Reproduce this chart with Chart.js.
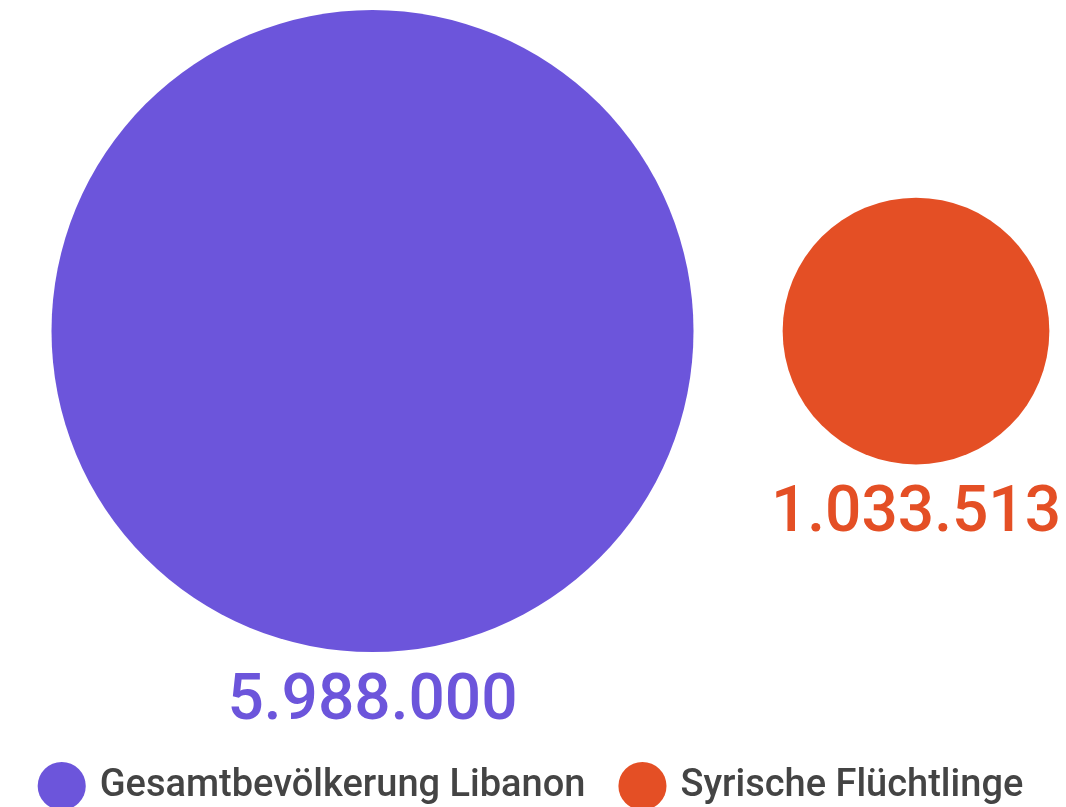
<!DOCTYPE html>
<html>
<head>
<meta charset="utf-8">
<script src="https://cdn.jsdelivr.net/npm/chart.js@4"></script>
<style>
  html, body { margin: 0; padding: 0; background: #fff; }
  #wrap { width: 1066px; height: 807px; }
</style>
</head>
<body>
<div id="wrap"><canvas id="bubbleChart"></canvas></div>
<script>
const labels = ['Gesamtbevölkerung Libanon', 'Syrische Flüchtlinge'];
const values = [5988000, 1033513];
const valueLabels = ['5.988.000', '1.033.513'];
const colors = ['#6C55DB', '#E44F25'];

// circle area proportional to the value
const maxRadius = 321;
const maxValue = Math.max(...values);

const valueLabelPlugin = {
  id: 'valueLabels',
  afterDatasetsDraw(chart) {
    const ctx = chart.ctx;
    chart.data.datasets.forEach((ds, i) => {
      const el = chart.getDatasetMeta(i).data[0];
      if (!el) return;
      ctx.save();
      ctx.font = '500 64px Roboto';
      ctx.fillStyle = colors[i];
      ctx.textAlign = 'center';
      ctx.textBaseline = 'middle';
      ctx.fillText(valueLabels[i], el.x, el.y + el.options.radius + 51);
      ctx.restore();
    });
  }
};

const ctx = document.getElementById('bubbleChart').getContext('2d');
new Chart(ctx, {
  type: 'bubble',
  data: {
    datasets: labels.map((name, i) => ({
      label: name,
      data: [{ x: i, y: 0, r: maxRadius * Math.sqrt(values[i] / maxValue) }],
      backgroundColor: colors[i],
      borderColor: colors[i],
      borderWidth: 0,
      hoverRadius: 0,
      clip: false
    }))
  },
  options: {
    responsive: true,
    maintainAspectRatio: false,
    animation: false,
    layout: { padding: { top: 0, left: 0, right: 0, bottom: -8 }, autoPadding: false },
    scales: {
      x: { display: false, min: -0.6854, max: 1.276 },
      y: { display: false, min: -1, max: 0.832 }
    },
    plugins: {
      legend: {
        position: 'bottom',
        labels: {
          usePointStyle: true,
          pointStyle: 'circle',
          boxWidth: 38,
          boxHeight: 34,
          color: '#444',
          padding: 38,
          font: { family: 'Roboto', size: 38, weight: '500' }
        }
      },
      tooltip: { enabled: false }
    }
  },
  plugins: [valueLabelPlugin]
});
</script>
</body>
</html>
